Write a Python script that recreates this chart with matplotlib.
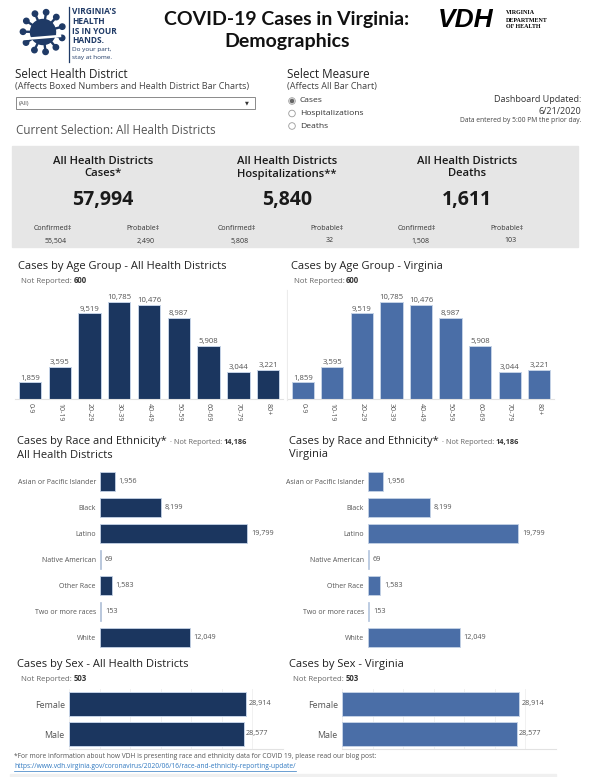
import matplotlib
matplotlib.use('Agg')
import matplotlib.pyplot as plt
from matplotlib.patches import Rectangle, Circle
import numpy as np

plt.rcParams['font.family'] = ['Open Sans', 'DejaVu Sans']

# ---------------- data ----------------
age_groups = ['0-9', '10-19', '20-29', '30-39', '40-49', '50-59', '60-69', '70-79', '80+']
age_cases = [1859, 3595, 9519, 10785, 10476, 8987, 5908, 3044, 3221]
race_groups = ['Asian or Pacific Islander', 'Black', 'Latino', 'Native American',
               'Other Race', 'Two or more races', 'White']
race_cases = [1956, 8199, 19799, 69, 1583, 153, 12049]
sex_groups = ['Female', 'Male']
sex_cases = [28914, 28577]
measures = ['Cases', 'Hospitalizations', 'Deaths']
box_titles = ['Cases*', 'Hospitalizations**', 'Deaths']
box_totals = [57994, 5840, 1611]
box_confirmed = [55504, 5808, 1508]
box_probable = [2490, 32, 103]
not_reported_age = 600
not_reported_race = 14186
not_reported_sex = 503

NAVY = '#1b365f'
STEEL = '#4a6ea7'
LOGO = '#1f3a66'
GT = '#555555'

W, H = 603, 777
fig = plt.figure(figsize=(W / 100, H / 100), dpi=100)
bg = fig.add_axes([0, 0, 1, 1])
bg.set_xlim(0, W)
bg.set_ylim(H, 0)
bg.axis('off')


def T(x, y, s, **kw):
    kw.setdefault('va', 'center')
    return bg.text(x, y, s, **kw)


def AX(x0, y0, x1, y1):
    return fig.add_axes([x0 / W, 1 - y1 / H, (x1 - x0) / W, (y1 - y0) / H])


fig.canvas.draw()
R = fig.canvas.get_renderer()


def chain(x, y, parts):
    """Draw consecutive text pieces on a shared baseline y."""
    for s, gap, kw in parts:
        t = T(x, y, s, va='baseline', **kw)
        bb = t.get_window_extent(renderer=R)
        x += bb.width + gap
    return x


# ---------------- header ----------------
cx, cy = 43, 32
bg.add_patch(Circle((cx, cy), 12.5, color=LOGO, zorder=2))
for a in np.linspace(0, 2 * np.pi, 11, endpoint=False) + 0.3:
    x1, y1 = cx + 20 * np.cos(a), cy + 20 * np.sin(a)
    bg.plot([cx, x1], [cy, y1], color=LOGO, lw=1.7, zorder=2)
    bg.add_patch(Circle((x1, y1), 2.7, color=LOGO, zorder=2))
bg.plot([24, 60], [39, 36], color='white', lw=1.8, zorder=3)
bg.plot([69, 69], [7, 62], color=LOGO, lw=0.9)
for i, s in enumerate(["VIRGINIA'S", 'HEALTH', 'IS IN YOUR', 'HANDS.']):
    T(72, 12 + i * 9.6, s, fontsize=6, fontweight='bold', color=LOGO)
T(72, 50, 'Do your part,', fontsize=4.6, color=LOGO)
T(72, 57, 'stay at home.', fontsize=4.6, color=LOGO)

# title
T(287, 20, 'COVID-19 Cases in Virginia:', fontsize=14, fontweight='bold',
  ha='center', family=['Lato', 'DejaVu Sans'], color='#111111')
T(287, 41, 'Demographics', fontsize=14, fontweight='bold',
  ha='center', family=['Lato', 'DejaVu Sans'], color='#111111')

# VDH logo
T(438, 20, 'VDH', fontsize=19, fontweight='bold', style='italic',
  family=['Liberation Sans', 'DejaVu Sans'], color='black')
for i, s in enumerate(['VIRGINIA', 'DEPARTMENT', 'OF HEALTH']):
    T(506, 13 + i * 7, s, fontsize=4.3, fontweight='bold',
      family=['Liberation Serif', 'DejaVu Serif'], color='black')

# selectors
T(15, 75, 'Select Health District', fontsize=8.4, color='#222222')
T(15, 86, '(Affects Boxed Numbers and Health District Bar Charts)', fontsize=6.6, color='#444444')
bg.add_patch(Rectangle((16, 97), 239, 12, fill=False, ec='#8a8a8a', lw=0.7))
T(19, 103, '(All)', fontsize=4.4, color='#555555')
T(245, 103, '▼', fontsize=3.6, color='#333333', family=['DejaVu Sans'])
T(16, 130, 'Current Selection: All Health Districts', fontsize=8.4, color='#555555')

T(287, 75, 'Select Measure', fontsize=8.4, color='#222222')
T(287, 86, '(Affects All Bar Chart)', fontsize=6.6, color='#444444')
for i, s in enumerate(measures):
    yy = 101 + i * 12.5
    bg.add_patch(Circle((292, yy), 3.3, fill=False, ec='#9a9a9a', lw=0.6))
    if i == 0:
        bg.add_patch(Circle((292, yy), 1.6, color='#666666'))
    T(300, yy, s, fontsize=6.1, color='#333333')

T(581, 99, 'Dashboard Updated:', fontsize=6.5, color='#333333', ha='right')
T(581, 111, '6/21/2020', fontsize=6.5, color='#333333', ha='right')
T(581, 121, 'Data entered by 5:00 PM the prior day.', fontsize=4.9, color='#444444', ha='right')

# ---------------- summary box ----------------
bg.add_patch(Rectangle((12, 146), 566, 101, color='#e6e6e6', zorder=0))
col_x = [103, 287, 467]
for i in range(3):
    c = col_x[i]
    T(c, 161, 'All Health Districts', fontsize=8.1, ha='center', color='#1a1a1a', fontweight='semibold')
    T(c, 174, box_titles[i], fontsize=8.1, ha='center', color='#1a1a1a', fontweight='semibold')
    T(c, 200, f'{box_totals[i]:,}', fontsize=14, ha='center', fontweight='bold', color='#1a1a1a')
    T(c - 50, 229, 'Confirmed\u2021', fontsize=5, ha='center', color='#333333')
    T(c - 47, 241, f'{box_confirmed[i]:,}', fontsize=5, ha='center', color='#333333')
    T(c + 40, 229, 'Probable\u2021', fontsize=5, ha='center', color='#333333')
    T(c + 43, 241, f'{box_probable[i]:,}', fontsize=5, ha='center', color='#333333')

# ---------------- charts ----------------
TITLE_FS = 8.0
SMALL = dict(fontsize=5.6, color='#666666')
SMALLB = dict(fontsize=5.6, color='#333333', fontweight='bold')


def clean(ax, keep_bottom=True):
    for k, sp in ax.spines.items():
        sp.set_visible(False)
    if keep_bottom:
        ax.spines['bottom'].set_visible(True)
        ax.spines['bottom'].set_color('#e2e2e2')
        ax.spines['bottom'].set_linewidth(0.8)


def age_chart(x0, x1, color, title):
    T(x0 + 3, 267, title, fontsize=TITLE_FS, color='#222222')
    chain(x0 + 6, 283, [('Not Reported:', 1.5, SMALL), (f'{not_reported_age:,}', 0, SMALLB)])
    ax = AX(x0, 288, x1, 399)
    ax.bar(range(len(age_cases)), age_cases, width=0.75, color=color,
           edgecolor='#c4d2e6', linewidth=0.7)
    ax.set_xlim(-0.5, len(age_cases) - 0.5)
    ax.set_ylim(0, 12340)
    ax.set_yticks([])
    ax.set_xticks(range(len(age_groups)))
    ax.set_xticklabels(age_groups, rotation=270, fontsize=5, color=GT)
    ax.tick_params(axis='x', length=0, pad=3)
    clean(ax)
    for i, v in enumerate(age_cases):
        ax.text(i, v + 80, f'{v:,}', ha='center', va='bottom', fontsize=5.6, color=GT)
    return ax


age_chart(15, 283, NAVY, 'Cases by Age Group - All Health Districts')
age_chart(288, 554, STEEL, 'Cases by Age Group - Virginia')
bg.plot([287, 287], [290, 400], color='#ececec', lw=0.8)


def race_chart(x0, ax_left, width, color, subtitle):
    chain(x0 + 2, 444, [('Cases by Race and Ethnicity*', 3, dict(fontsize=TITLE_FS, color='#222222')),
                        ('\u00b7 Not Reported:', 1.5, dict(fontsize=5.3, color='#666666')),
                        (f'{not_reported_race:,}', 0, dict(fontsize=5.3, color='#333333', fontweight='bold'))])
    T(x0 + 2, 455, subtitle, fontsize=TITLE_FS, color='#222222')
    ax = AX(ax_left, 469, ax_left + width, 650)
    y = np.arange(len(race_cases))
    ax.barh(y, race_cases, height=0.73, color=color, edgecolor='#c4d2e6', linewidth=0.6)
    ax.set_ylim(len(race_cases) - 0.5, -0.5)
    ax.set_xlim(0, 25000)
    ax.set_xticks([])
    ax.set_yticks(y)
    ax.set_yticklabels(race_groups, fontsize=5, color=GT)
    ax.tick_params(axis='y', length=0, pad=3)
    clean(ax, keep_bottom=False)
    for i, v in enumerate(race_cases):
        ax.text(v + 500, i, f'{v:,}', va='center', ha='left', fontsize=5.2, color=GT)


race_chart(15, 100, 186, NAVY, 'All Health Districts')
race_chart(287, 368, 190, STEEL, 'Virginia')


def sex_chart(x0, ax_left, ax_right, color, title):
    T(x0 + 2, 664, title, fontsize=TITLE_FS, color='#222222')
    chain(x0 + 6, 681, [('Not Reported:', 1.5, SMALL), (f'{not_reported_sex:,}', 0, SMALLB)])
    ax = AX(ax_left, 689, ax_right, 749)
    y = np.arange(len(sex_cases))
    ax.barh(y, sex_cases, height=0.8, color=color, edgecolor='#c4d2e6', linewidth=0.7, zorder=3)
    ax.set_ylim(len(sex_cases) - 0.5, -0.5)
    ax.set_xlim(0, 35000)
    ax.set_xticks(np.arange(0, 35001, 5000))
    ax.set_xticklabels([])
    ax.tick_params(axis='x', length=0)
    ax.grid(axis='x', color='#f1f1f1', lw=0.7, zorder=0)
    ax.set_yticks(y)
    ax.set_yticklabels(sex_groups, fontsize=6.4, color=GT)
    ax.tick_params(axis='y', length=0, pad=3)
    clean(ax)
    for i, v in enumerate(sex_cases):
        ax.text(v + 400, i, f'{v:,}', va='center', ha='left', fontsize=5.2, color=GT)


sex_chart(15, 69, 283, NAVY, 'Cases by Sex - All Health Districts')
sex_chart(287, 342, 556, STEEL, 'Cases by Sex - Virginia')

# ---------------- footnote ----------------
T(14, 756, '*For more information about how VDH is presenting race and ethnicity data for COVID 19, '
  'please read our blog post:', fontsize=4.8, color='#555555')
link = T(14, 767, 'https://www.vdh.virginia.gov/coronavirus/2020/06/16/race-and-ethnicity-reporting-update/',
         fontsize=4.8, color='#2f78c0')
lw_ = link.get_window_extent(renderer=R).width
bg.plot([14, 14 + lw_], [771, 771], color='#2f78c0', lw=0.5)
bg.add_patch(Rectangle((10, 774), 546, 3, color='#f0f0f0', zorder=0))

fig.savefig('out.png', dpi=100)
